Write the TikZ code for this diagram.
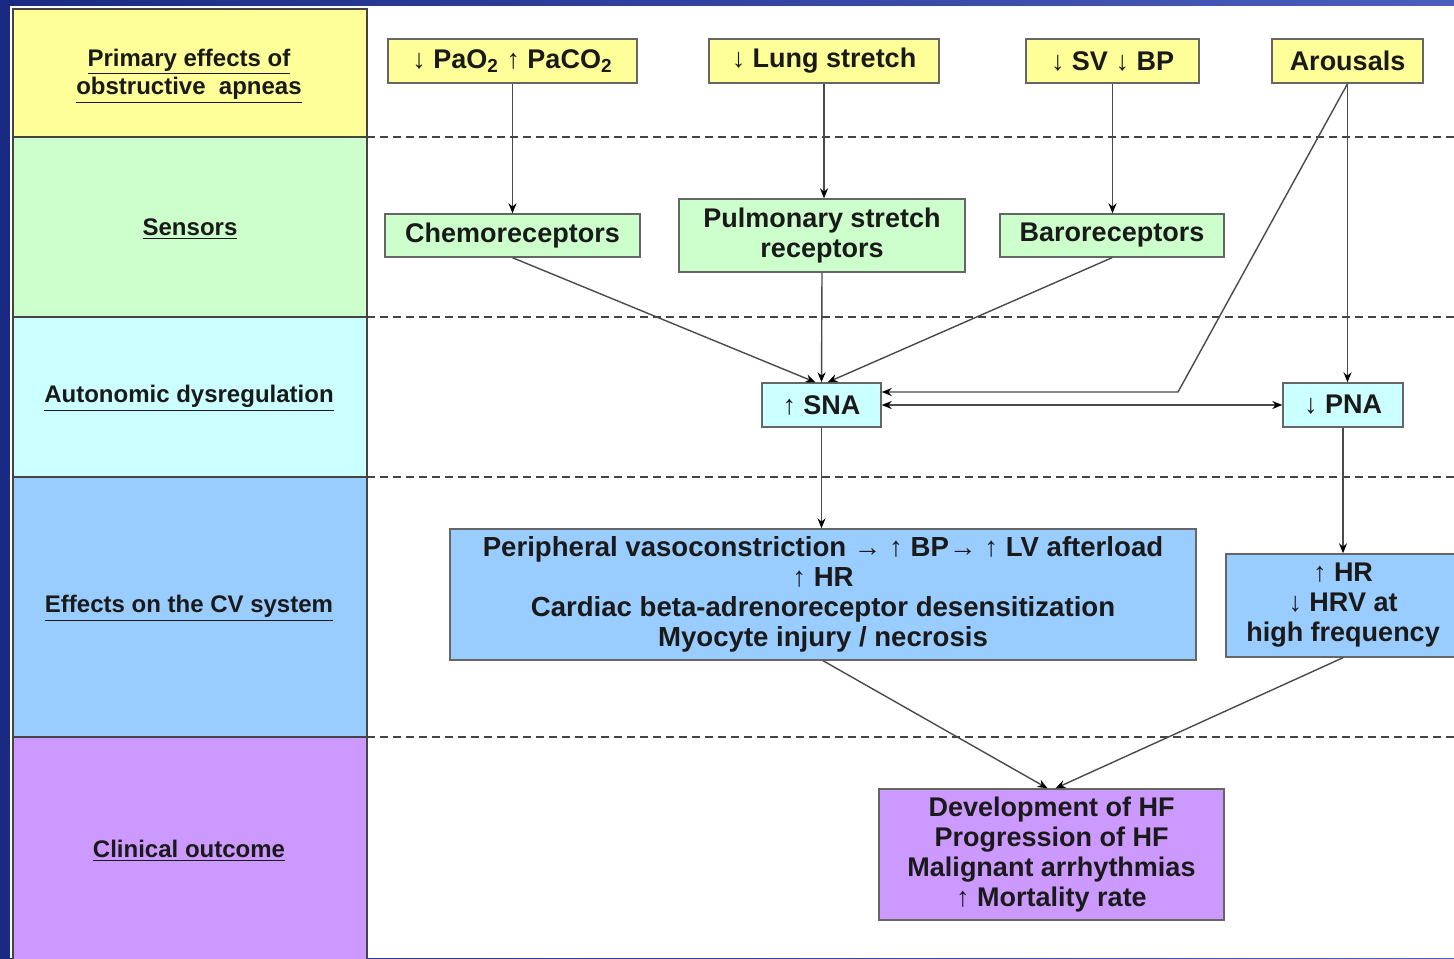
\documentclass[tikz,border=0pt]{standalone}
\usepackage{fontspec}
\setmainfont{Liberation Sans}
\usetikzlibrary{arrows.meta,calc}
\definecolor{cyel}{HTML}{FFFF99}
\definecolor{cgrn}{HTML}{CCFFCC}
\definecolor{ccyn}{HTML}{CCFFFF}
\definecolor{cblu}{HTML}{99CCFF}
\definecolor{cpur}{HTML}{CC99FF}
\definecolor{bandline}{HTML}{444444}
\definecolor{boxline}{HTML}{666666}
\definecolor{arrline}{HTML}{4A4A4A}
\definecolor{txt}{HTML}{1A1A1A}
\begin{document}
\begin{tikzpicture}[x=0.5pt,y=-0.5pt,
  band/.style={draw=bandline, line width=0.6pt},
  lbl/.style={align=center, text=txt, font=\bfseries\fontsize{12}{13}\selectfont},
  box/.style={draw=boxline, line width=0.7pt, inner sep=0pt, align=center, text=txt,
    font=\bfseries\fontsize{13.5}{15}\selectfont},
  sep/.style={draw=bandline, line width=0.6pt, dash pattern=on 4pt off 2.5pt},
  arr/.style={draw=arrline, line width=0.7pt, -{Stealth[length=5pt,width=4pt,black]}},
  darr/.style={draw=arrline, line width=0.7pt, {Stealth[length=5pt,width=4pt,black]}-{Stealth[length=5pt,width=4pt,black]}},
  ln/.style={draw=arrline, line width=0.7pt}]
\useasboundingbox (0,0) rectangle (1454,958);
\clip (0,0) rectangle (1454,958);
% background frame
\shade[left color={rgb,255:red,26;green,42;blue,130}, right color={rgb,255:red,74;green,94;blue,190}] (0,0) rectangle (1454,958);
\fill[white] (10,6) rectangle (1454,958);
% left bands
\path[band, fill=cyel] (13,9) rectangle (367,137);
\path[band, fill=cgrn] (13,137) rectangle (367,317);
\path[band, fill=ccyn] (13,317) rectangle (367,477);
\path[band, fill=cblu] (13,477) rectangle (367,737);
\path[band, fill=cpur] (13,737) rectangle (367,962);
% separators
\draw[sep] (367,137) -- (1454,137);
\draw[sep] (367,317) -- (1454,317);
\draw[sep] (367,477) -- (1454,477);
\draw[sep] (367,737) -- (1454,737);
% left labels
\node[lbl] (l1) at (189,76) {\underline{Primary effects of}\\\underline{obstructive\ \ apneas}};
\node[lbl] (l2) at (190,229) {\underline{Sensors}};
\node[lbl] (l3) at (189,398) {\underline{Autonomic dysregulation}};
\node[lbl] (l4) at (189,608) {\underline{Effects on the CV system}};
\node[lbl] (l5) at (189,851) {\underline{Clinical outcome}};
% top row
\node[box, fill=cyel, minimum width=124.5pt, minimum height=22pt] (pao) at (512.5,61) {↓ PaO\textsubscript{2} ↑ PaCO\textsubscript{2}};
\node[box, fill=cyel, minimum width=115pt, minimum height=22pt] (lung) at (824,61) {\raisebox{-1pt}{↓ Lung stretch}};
\node[box, fill=cyel, minimum width=86.5pt, minimum height=22pt] (svbp) at (1112.5,61) {↓ SV ↓ BP};
\node[box, fill=cyel, minimum width=75.5pt, minimum height=22pt] (aro) at (1347.5,61) {Arousals};
% sensors
\node[box, fill=cgrn, minimum width=127.5pt, minimum height=21.5pt] (chemo) at (512.5,235.5) {\raisebox{-1pt}{Chemoreceptors}};
\node[box, fill=cgrn, minimum width=143pt, minimum height=36.5pt] (pulm) at (822,235.5) {Pulmonary stretch\\receptors};
\node[box, fill=cgrn, minimum width=112pt, minimum height=21.5pt] (baro) at (1112,235.5) {\raisebox{-1pt}{Baroreceptors}};
% autonomic
\node[box, fill=ccyn, minimum width=59.5pt, minimum height=22pt] (sna) at (821.5,405) {↑ SNA};
\node[box, fill=ccyn, minimum width=60pt, minimum height=22pt] (pna) at (1343,405) {↓ PNA};
% CV effects
\node[box, fill=cblu, minimum width=373pt, minimum height=65.5pt, font=\bfseries\fontsize{13.8}{15}\selectfont] (cv) at (823,594.5)
  {Peripheral vasoconstriction → ↑ BP→ ↑ LV afterload\\↑ HR\\Cardiac beta-adrenoreceptor desensitization\\Myocyte injury / necrosis};
\node[box, fill=cblu, minimum width=117pt, minimum height=51.5pt] (rcv) at (1343,605.5) {↑ HR\\↓ HRV at\\high frequency};
% clinical
\node[box, fill=cpur, minimum width=172.5pt, minimum height=65.5pt] (clin) at (1051.5,854.5)
  {Development of HF\\Progression of HF\\Malignant arrhythmias\\↑ Mortality rate};
% connectors
\draw[arr] (pao.south) -- (chemo.north);
\draw[arr] (lung.south) -- (lung.south |- pulm.north);
\draw[arr] (svbp.south) -- (svbp.south |- baro.north);
\draw[arr] (aro.south) -- (aro.south |- pna.north);
\coordinate (bend) at (1178,392);
\draw[arr] (aro.south) -- (bend) -- (bend -| sna.east);
\draw[darr] (sna.east) -- (pna.west);
\draw[arr] (chemo.south) -- ([xshift=-3pt]sna.north);
\draw[arr] (pulm.south) -- (sna.north);
\draw[arr] (baro.south) -- ([xshift=3pt]sna.north);
\draw[arr] (sna.south) -- (sna.south |- cv.north);
\draw[arr] (pna.south) -- (rcv.north);
\draw[arr] (cv.south) -- ([xshift=-2pt]clin.north);
\draw[arr] (rcv.south) -- ([xshift=2pt]clin.north);
\end{tikzpicture}
\end{document}
